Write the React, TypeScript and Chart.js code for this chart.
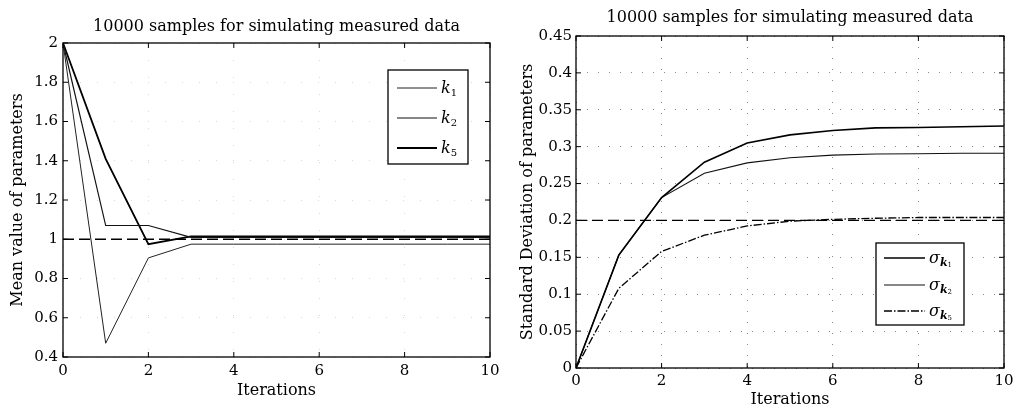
import React, { useEffect, useRef } from 'react';
import { Chart, registerables } from 'chart.js';

Chart.register(...registerables);

// ---------- data ----------
const ITERATIONS = [0, 1, 2, 3, 4, 5, 6, 7, 8, 9, 10];
const X_TICKS = [0, 2, 4, 6, 8, 10];

const MEAN_K1 = [2, 0.47, 0.905, 0.975, 0.975, 0.975, 0.975, 0.975, 0.975, 0.975, 0.975];
const MEAN_K2 = [2, 1.07, 1.07, 1.01, 1.01, 1.01, 1.01, 1.01, 1.01, 1.01, 1.01];
const MEAN_K5 = [2, 1.41, 0.975, 1.015, 1.015, 1.015, 1.015, 1.015, 1.015, 1.015, 1.015];
const MEAN_TRUE = [1, 1, 1, 1, 1, 1, 1, 1, 1, 1, 1];
const MEAN_Y_TICKS = [0.4, 0.6, 0.8, 1, 1.2, 1.4, 1.6, 1.8, 2];

const STD_K1 = [0, 0.153, 0.231, 0.279, 0.305, 0.316, 0.322, 0.3255, 0.326, 0.327, 0.328];
const STD_K2 = [0, 0.153, 0.231, 0.264, 0.278, 0.285, 0.2885, 0.29, 0.2905, 0.291, 0.291];
const STD_K5 = [0, 0.108, 0.158, 0.18, 0.1925, 0.199, 0.2015, 0.203, 0.204, 0.204, 0.204];
const STD_TRUE = [0.2, 0.2, 0.2, 0.2, 0.2, 0.2, 0.2, 0.2, 0.2, 0.2, 0.2];
const STD_Y_TICKS = [0, 0.05, 0.1, 0.15, 0.2, 0.25, 0.3, 0.35, 0.4, 0.45];

const PARAM_SUBS = ['1', '2', '5'];
const TITLE = '10000 samples for simulating measured data';
const X_TITLE = 'Iterations';
const MEAN_Y_TITLE = 'Mean value of parameters';
const STD_Y_TITLE = 'Standard Deviation of parameters';

// ---------- helpers ----------
const FONT = 'DejaVu Serif';
const pts = (ys: number[]) => ITERATIONS.map((x, i) => ({ x, y: ys[i] }));

const frameTicksPlugin = {
  id: 'frameTicks',
  afterDatasetsDraw(chart: any) {
    const { ctx, chartArea: a, scales } = chart;
    ctx.save();
    ctx.strokeStyle = '#000';
    ctx.lineWidth = 1.3;
    ctx.setLineDash([]);
    ctx.strokeRect(a.left, a.top, a.right - a.left, a.bottom - a.top);
    const L = 5;
    ctx.lineWidth = 1;
    ctx.beginPath();
    scales.x.ticks.forEach((t: any) => {
      const px = scales.x.getPixelForValue(t.value);
      ctx.moveTo(px, a.bottom); ctx.lineTo(px, a.bottom - L);
      ctx.moveTo(px, a.top); ctx.lineTo(px, a.top + L);
    });
    scales.y.ticks.forEach((t: any) => {
      const py = scales.y.getPixelForValue(t.value);
      ctx.moveTo(a.left, py); ctx.lineTo(a.left + L, py);
      ctx.moveTo(a.right, py); ctx.lineTo(a.right - L, py);
    });
    ctx.stroke();
    ctx.restore();
  },
};

const boxLegendPlugin = {
  id: 'boxLegend',
  afterDraw(chart: any, _args: any, opts: any) {
    if (!opts || !opts.items) return;
    const { ctx } = chart;
    ctx.save();
    ctx.fillStyle = '#fff';
    ctx.fillRect(opts.x, opts.y, opts.w, opts.h);
    ctx.strokeStyle = '#000';
    ctx.lineWidth = 1.3;
    ctx.setLineDash([]);
    ctx.strokeRect(opts.x, opts.y, opts.w, opts.h);
    opts.items.forEach((it: any, i: number) => {
      const ds = chart.data.datasets[it.datasetIndex];
      const y = opts.rowY[i];
      ctx.strokeStyle = ds.borderColor;
      ctx.lineWidth = ds.borderWidth;
      ctx.setLineDash(ds.borderDash || []);
      ctx.beginPath();
      ctx.moveTo(opts.lineX0, y);
      ctx.lineTo(opts.lineX1, y);
      ctx.stroke();
      ctx.setLineDash([]);
      ctx.fillStyle = '#000';
      ctx.textBaseline = 'alphabetic';
      ctx.textAlign = 'left';
      let x = opts.textX;
      it.parts.forEach((p: any) => {
        ctx.font = `${p.style || ''} ${p.size}px ${FONT}`;
        ctx.fillText(p.text, x, y + 5 + p.dy);
        x += ctx.measureText(p.text).width + (p.gap || 0);
      });
    });
    ctx.restore();
  },
};

Chart.register(frameTicksPlugin, boxLegendPlugin);

function makeConfig(p: any) {
  const tickFont = { family: FONT, size: 15 };
  const titleFont = { family: FONT, size: 16 };
  return {
    type: 'line',
    data: { datasets: p.datasets },
    options: {
      animation: false,
      responsive: false,
      devicePixelRatio: 1,
      layout: { padding: { left: 0, right: p.padRight, top: 0, bottom: 0 } },
      elements: { point: { radius: 0 }, line: { tension: 0 } },
      plugins: {
        legend: { display: false },
        tooltip: { enabled: false },
        title: {
          display: true,
          text: TITLE,
          fullSize: false,
          color: '#000',
          font: { ...titleFont, weight: 'normal' },
          padding: p.titlePad,
        },
        boxLegend: p.legend,
      },
      scales: {
        x: {
          type: 'linear',
          min: 0,
          max: 10,
          afterBuildTicks: (s: any) => { s.ticks = X_TICKS.map((v) => ({ value: v })); },
          afterFit: (s: any) => { s.height = p.xHeight; },
          ticks: { font: tickFont, color: '#000', padding: p.xTickPad, maxRotation: 0, autoSkip: false },
          grid: { color: p.gridColor, drawTicks: false, lineWidth: 1 },
          border: { display: false, dash: p.gridDash },
          title: { display: true, text: X_TITLE, color: '#000', font: titleFont, padding: { top: 0, bottom: p.xTitlePad } },
        },
        y: {
          type: 'linear',
          min: p.yMin,
          max: p.yMax,
          afterBuildTicks: (s: any) => { s.ticks = p.yTicks.map((v: number) => ({ value: v })); },
          afterFit: (s: any) => { s.width = p.yWidth; },
          ticks: { font: tickFont, color: '#000', padding: p.yTickPad, autoSkip: false, callback: (v: number) => String(v) },
          grid: { color: p.gridColor, drawTicks: false, lineWidth: 1 },
          border: { display: false, dash: p.gridDash },
          title: { display: true, text: p.yTitle, color: '#000', font: titleFont, padding: { top: p.yTitlePad, bottom: 0 } },
        },
      },
    },
  };
}

const meanDatasets = [
  { label: 'true', data: pts(MEAN_TRUE), borderColor: '#000', borderWidth: 1.3, borderDash: [11, 5] },
  { label: 'k1', data: pts(MEAN_K1), borderColor: '#222', borderWidth: 1 },
  { label: 'k2', data: pts(MEAN_K2), borderColor: '#111', borderWidth: 1.2 },
  { label: 'k5', data: pts(MEAN_K5), borderColor: '#000', borderWidth: 1.8 },
];

const stdDatasets = [
  { label: 'true', data: pts(STD_TRUE), borderColor: '#000', borderWidth: 1.3, borderDash: [11, 5] },
  { label: 'σk1', data: pts(STD_K1), borderColor: '#000', borderWidth: 1.6 },
  { label: 'σk2', data: pts(STD_K2), borderColor: '#111', borderWidth: 1.1 },
  { label: 'σk5', data: pts(STD_K5), borderColor: '#000', borderWidth: 1.3, borderDash: [8, 2, 1.5, 2] },
];

const meanLegend = {
  x: 388, y: 70, w: 80, h: 94,
  rowY: [88, 118, 148],
  lineX0: 397, lineX1: 437, textX: 441,
  items: PARAM_SUBS.map((s, i) => ({
    datasetIndex: i + 1,
    parts: [
      { text: 'k', size: 16, dy: 0, style: 'italic' },
      { text: s, size: 10, dy: 3 },
    ],
  })),
};

const stdLegend = {
  x: 371, y: 243, w: 88, h: 82,
  rowY: [258, 285, 311],
  lineX0: 379, lineX1: 420, textX: 424,
  items: PARAM_SUBS.map((s, i) => ({
    datasetIndex: i + 1,
    parts: [
      { text: 'σ', size: 16, dy: 0, style: 'italic' },
      { text: 'k', size: 11, dy: 3, style: 'italic bold' },
      { text: s, size: 7, dy: 4 },
    ],
  })),
};

function ChartCanvas({ config, width, height }: { config: any; width: number; height: number }) {
  const ref = useRef<HTMLCanvasElement | null>(null);
  useEffect(() => {
    if (!ref.current) return;
    const chart = new Chart(ref.current, config);
    return () => chart.destroy();
  }, [config]);
  return <canvas ref={ref} width={width} height={height} style={{ width, height, display: 'block' }} />;
}

const leftConfig = makeConfig({
  datasets: meanDatasets,
  padRight: 15,
  titlePad: { top: 17.4, bottom: 6.4 },
  xHeight: 55,
  xTickPad: 5,
  xTitlePad: 11.4,
  yWidth: 63,
  yTickPad: 5,
  yTitlePad: 8.4,
  yMin: 0.4,
  yMax: 2,
  yTicks: MEAN_Y_TICKS,
  yTitle: MEAN_Y_TITLE,
  gridColor: '#d8d8d8',
  gridDash: [1, 16],
  legend: meanLegend,
});

const rightConfig = makeConfig({
  datasets: stdDatasets,
  padRight: 15,
  titlePad: { top: 8.4, bottom: 8.4 },
  xHeight: 44,
  xTickPad: 4,
  xTitlePad: 2.4,
  yWidth: 71,
  yTickPad: 4,
  yTitlePad: 12.9,
  yMin: 0,
  yMax: 0.45,
  yTicks: STD_Y_TICKS,
  yTitle: STD_Y_TITLE,
  gridColor: '#888',
  gridDash: [1, 10],
  legend: stdLegend,
});

export default function App() {
  return (
    <div style={{ position: 'absolute', left: 0, top: 0, width: 1019, height: 412, display: 'flex', background: '#fff' }}>
      <ChartCanvas config={leftConfig} width={505} height={412} />
      <ChartCanvas config={rightConfig} width={514} height={412} />
    </div>
  );
}
